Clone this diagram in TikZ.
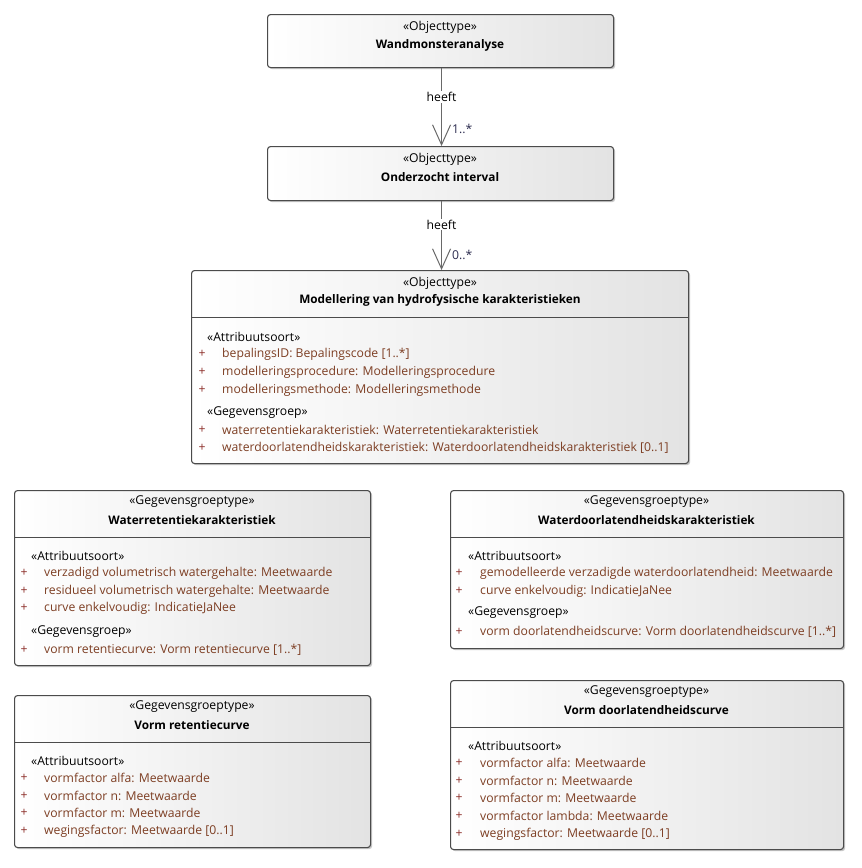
\documentclass[tikz,border=0pt]{standalone}
\usepackage{fontspec}
\setmainfont{Open Sans}
\usetikzlibrary{arrows.meta,shadows}
\definecolor{attrc}{RGB}{125,62,35}
\definecolor{plusc}{RGB}{140,45,40}
\definecolor{edgec}{RGB}{75,75,75}
\definecolor{linec}{RGB}{105,105,105}
\definecolor{multc}{RGB}{45,45,80}
\begin{document}
\begin{tikzpicture}[x=1pt,y=-1pt,
  box/.style={draw=edgec, line width=1.1pt, rounded corners=3pt, left color=white, right color=black!11,
    anchor=north west, inner sep=0pt,
    drop shadow={fill=black!22, opacity=1, shadow xshift=1.6pt, shadow yshift=-1.6pt}},
  stereo/.style={font=\fontsize{12.2}{14}\selectfont, inner sep=0pt},
  titl/.style={font=\fontsize{11.8}{14}\selectfont\bfseries, inner sep=0pt},
  sect/.style={font=\fontsize{12.2}{14}\selectfont, anchor=west, inner sep=0pt},
  plus/.style={font=\fontsize{12.2}{14}\selectfont, text=plusc, inner sep=0pt},
  attr/.style={font=\fontsize{12.2}{14}\selectfont, text=attrc, anchor=west, inner sep=0pt},
  divider/.style={draw=edgec, line width=0.9pt},
  assoc/.style={draw=linec, line width=1pt, -{Straight Barb[length=20pt,width=18pt,line width=1pt]}},
  lbl/.style={font=\fontsize{12.2}{14}\selectfont, fill=white, inner sep=1pt},
  mult/.style={font=\fontsize{12.2}{14}\selectfont, text=multc, anchor=west, inner sep=0pt}
]
\fill[white] (0,0) rectangle (862,868);
\useasboundingbox (0,0) rectangle (862,868);

% ---------- Wandmonsteranalyse
\node[box, minimum width=346pt, minimum height=53pt] (wand) at (267,14) {};
\node[stereo] (wandS) at (440,27) {«Objecttype»};
\node[titl] (wandT) at (440,45) {Wandmonsteranalyse};

% ---------- Onderzocht interval
\node[box, minimum width=346pt, minimum height=54pt] (ond) at (267,146) {};
\node[stereo] (ondS) at (440,159) {«Objecttype»};
\node[titl] (ondT) at (440,177) {Onderzocht interval};

% ---------- Modellering
\node[box, minimum width=497pt, minimum height=193pt] (mod) at (191,270) {};
\node[stereo] (modS) at (440,283) {«Objecttype»};
\node[titl] (modT) at (440,300) {Modellering van hydrofysische karakteristieken};
\draw[divider] (mod.west |- 0,317) -- (mod.east |- 0,317);
\node[sect] (modA) at (207,337) {«Attribuutsoort»};
\node[plus] (modp1) at (202,354) {+};
\node[attr] (moda1) at (222,354) {bepalingsID: Bepalingscode [1..*]};
\node[plus] (modp2) at (202,372) {+};
\node[attr] (moda2) at (222,372) {modelleringsprocedure: Modelleringsprocedure};
\node[plus] (modp3) at (202,390) {+};
\node[attr] (moda3) at (222,390) {modelleringsmethode: Modelleringsmethode};
\node[sect] (modG) at (207,413) {«Gegevensgroep»};
\node[plus] (modp4) at (202,430) {+};
\node[attr] (moda4) at (222,430) {waterretentiekarakteristiek: Waterretentiekarakteristiek};
\node[plus] (modp5) at (202,448) {+};
\node[attr] (moda5) at (222,448) {waterdoorlatendheidskarakteristiek: Waterdoorlatendheidskarakteristiek [0..1]};

% ---------- Waterretentiekarakteristiek
\node[box, minimum width=356pt, minimum height=175pt] (wr) at (14,490) {};
\node[stereo] (wrS) at (192,502) {«Gegevensgroeptype»};
\node[titl] (wrT) at (192,520) {Waterretentiekarakteristiek};
\draw[divider] (wr.west |- 0,537) -- (wr.east |- 0,537);
\node[sect] (wrA) at (31,556) {«Attribuutsoort»};
\node[plus] (wrp1) at (24,573) {+};
\node[attr] (wra1) at (44,573) {verzadigd volumetrisch watergehalte: Meetwaarde};
\node[plus] (wrp2) at (24,591) {+};
\node[attr] (wra2) at (44,591) {residueel volumetrisch watergehalte: Meetwaarde};
\node[plus] (wrp3) at (24,608) {+};
\node[attr] (wra3) at (44,608) {curve enkelvoudig: IndicatieJaNee};
\node[sect] (wrG) at (31,632) {«Gegevensgroep»};
\node[plus] (wrp4) at (24,650) {+};
\node[attr] (wra4) at (44,650) {vorm retentiecurve: Vorm retentiecurve [1..*]};

% ---------- Waterdoorlatendheidskarakteristiek
\node[box, minimum width=393pt, minimum height=158pt] (wd) at (450,490) {};
\node[stereo] (wdS) at (646.5,502) {«Gegevensgroeptype»};
\node[titl] (wdT) at (646.5,520) {Waterdoorlatendheidskarakteristiek};
\draw[divider] (wd.west |- 0,537) -- (wd.east |- 0,537);
\node[sect] (wdA) at (468,556) {«Attribuutsoort»};
\node[plus] (wdp1) at (459,573) {+};
\node[attr] (wda1) at (480,573) {gemodelleerde verzadigde waterdoorlatendheid: Meetwaarde};
\node[plus] (wdp2) at (459,591) {+};
\node[attr] (wda2) at (480,591) {curve enkelvoudig: IndicatieJaNee};
\node[sect] (wdG) at (468,613) {«Gegevensgroep»};
\node[plus] (wdp3) at (459,632) {+};
\node[attr] (wda3) at (480,632) {vorm doorlatendheidscurve: Vorm doorlatendheidscurve [1..*]};

% ---------- Vorm retentiecurve
\node[box, minimum width=356pt, minimum height=152pt] (vr) at (14,695) {};
\node[stereo] (vrS) at (192,707) {«Gegevensgroeptype»};
\node[titl] (vrT) at (192,725) {Vorm retentiecurve};
\draw[divider] (vr.west |- 0,742) -- (vr.east |- 0,742);
\node[sect] (vrA) at (31,761) {«Attribuutsoort»};
\node[plus] (vrp1) at (24,778) {+};
\node[attr] (vra1) at (44,778) {vormfactor alfa: Meetwaarde};
\node[plus] (vrp2) at (24,796) {+};
\node[attr] (vra2) at (44,796) {vormfactor n: Meetwaarde};
\node[plus] (vrp3) at (24,813) {+};
\node[attr] (vra3) at (44,813) {vormfactor m: Meetwaarde};
\node[plus] (vrp4) at (24,831) {+};
\node[attr] (vra4) at (44,831) {wegingsfactor: Meetwaarde [0..1]};

% ---------- Vorm doorlatendheidscurve
\node[box, minimum width=393pt, minimum height=169pt] (vd) at (450,680) {};
\node[stereo] (vdS) at (646.5,692) {«Gegevensgroeptype»};
\node[titl] (vdT) at (646.5,710) {Vorm doorlatendheidscurve};
\draw[divider] (vd.west |- 0,727) -- (vd.east |- 0,727);
\node[sect] (vdA) at (468,746) {«Attribuutsoort»};
\node[plus] (vdp1) at (459,763) {+};
\node[attr] (vda1) at (480,763) {vormfactor alfa: Meetwaarde};
\node[plus] (vdp2) at (459,781) {+};
\node[attr] (vda2) at (480,781) {vormfactor n: Meetwaarde};
\node[plus] (vdp3) at (459,798) {+};
\node[attr] (vda3) at (480,798) {vormfactor m: Meetwaarde};
\node[plus] (vdp4) at (459,816) {+};
\node[attr] (vda4) at (480,816) {vormfactor lambda: Meetwaarde};
\node[plus] (vdp5) at (459,834) {+};
\node[attr] (vda5) at (480,834) {wegingsfactor: Meetwaarde [0..1]};

% ---------- connectors
\draw[assoc] ([xshift=1pt]wand.south) -- ([xshift=1pt]ond.north)
  node[lbl, pos=0.37] (h1) {heeft};
\node[mult] (m1) at (452,129) {1..*};
\draw[assoc] ([xshift=1pt]ond.south) -- ([xshift=1.5pt]mod.north)
  node[lbl, pos=0.34] (h2) {heeft};
\node[mult] (m2) at (452,255) {0..*};
\end{tikzpicture}
\end{document}
